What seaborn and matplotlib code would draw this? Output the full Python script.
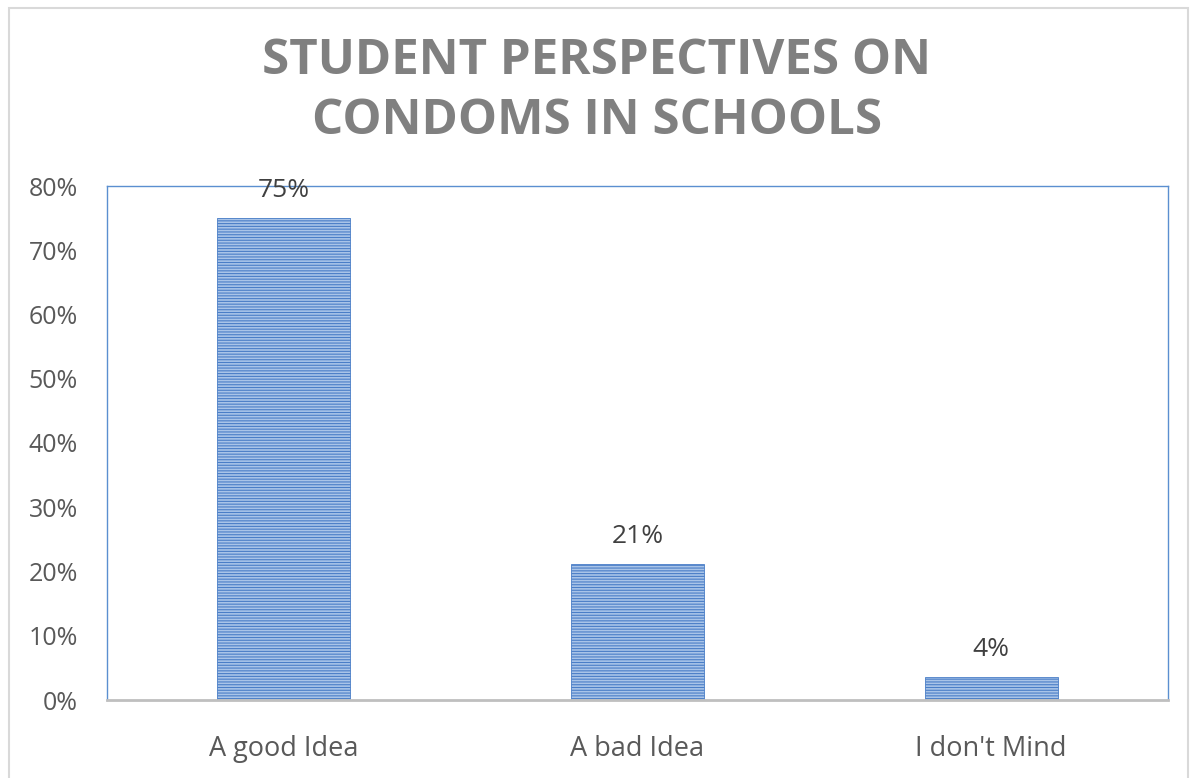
import matplotlib
matplotlib.use("Agg")
import matplotlib.pyplot as plt
import seaborn as sns
import pandas as pd
from matplotlib.patches import Rectangle
from matplotlib.ticker import PercentFormatter, MultipleLocator

categories = ["A good Idea", "A bad Idea", "I don't Mind"]
values = [0.75, 0.212, 0.036]
labels = ["75%", "21%", "4%"]
title_lines = ["STUDENT PERSPECTIVES ON", "CONDOMS IN SCHOOLS"]

sns.set_theme(style="white")
plt.rcParams['font.family'] = ['Open Sans', 'DejaVu Sans']
plt.rcParams['hatch.color'] = "#4A7EC7"
plt.rcParams['hatch.linewidth'] = 0.8

df = pd.DataFrame({"cat": categories, "val": values})

W, H = 1194, 778
fig = plt.figure(figsize=(W / 100, H / 100), dpi=100)
ax = fig.add_axes([107 / W, 1 - 700 / H, (1168 - 107) / W, (700 - 186) / H])

sns.barplot(data=df, x="cat", y="val", ax=ax, width=0.376,
            color="#A9C4E8", edgecolor="#4A7EC7", linewidth=0.6, saturation=1)
for p in ax.patches:
    p.set_hatch("------")

ax.set_ylim(0, 0.8)
ax.yaxis.set_major_locator(MultipleLocator(0.1))
ax.yaxis.set_major_formatter(PercentFormatter(1.0, decimals=0))
ax.set_xlabel("")
ax.set_ylabel("")
ax.tick_params(axis='y', labelsize=18, labelcolor="#595959", pad=21, length=0)
ax.tick_params(axis='x', labelsize=19.5, labelcolor="#595959", pad=25, length=0)

for s in ["top", "left", "right"]:
    ax.spines[s].set_color("#5B8FD0")
    ax.spines[s].set_linewidth(1.0)
ax.spines["bottom"].set_color("#BFBFBF")
ax.spines["bottom"].set_linewidth(2.0)

for p, lab in zip(ax.patches, labels):
    ax.annotate(lab, (p.get_x() + p.get_width() / 2, p.get_height()),
                xytext=(0, 11), textcoords="offset points",
                ha="center", va="bottom", fontsize=19, color="#404040")

for line, yc in zip(title_lines, [62, 122]):
    fig.text(0.5, 1 - yc / H, line, ha="center", va="center", fontsize=35.5,
             fontweight="bold", color="#808080")

fig.patches.append(Rectangle((9 / W, -0.02), (1188 - 9) / W, 1 - 8 / H + 0.02,
                             transform=fig.transFigure, fill=False,
                             edgecolor="#D9D9D9", linewidth=1.5))

fig.savefig("out.png", dpi=100, facecolor="white")
